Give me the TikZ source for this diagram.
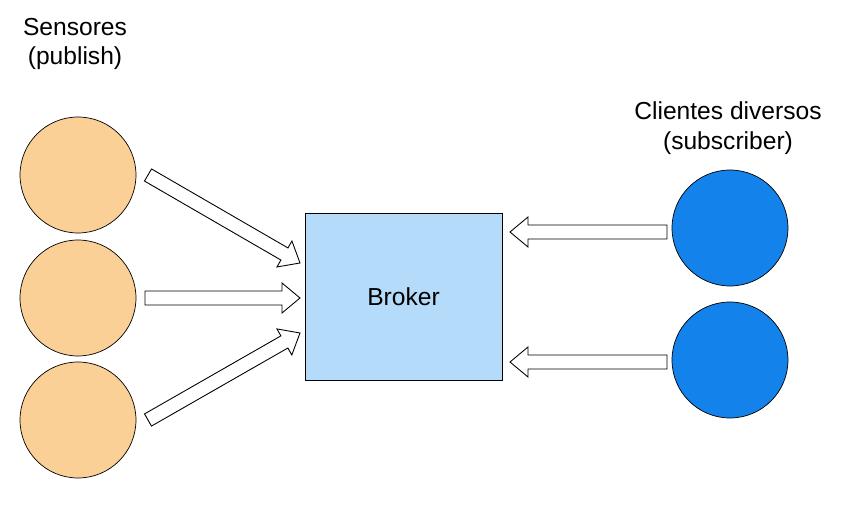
\documentclass[tikz,border=0pt]{standalone}
\usepackage{fontspec}
\setmainfont{Liberation Sans}
\usetikzlibrary{positioning,calc}
\definecolor{sensorfill}{RGB}{250,208,150}
\definecolor{clientfill}{RGB}{20,130,235}
\definecolor{brokerfill}{RGB}{180,220,250}
\newcommand{\hollowarrow}[2]{%
  \coordinate (hb) at ($(#2)!0.36cm!(#1)$);
  \draw[arrowline] ($(#1)!0.14cm!90:(#2)$) -- ($(hb)!0.14cm!-90:(#1)$) -- ($(hb)!0.3cm!-90:(#1)$) -- (#2)
    -- ($(hb)!0.3cm!90:(#1)$) -- ($(hb)!0.14cm!90:(#1)$) -- ($(#1)!0.14cm!-90:(#2)$) -- cycle;}
\begin{document}
\begin{tikzpicture}[x=0.02cm,y=-0.02cm,
  sensor/.style={circle,draw,fill=sensorfill,minimum size=2.32cm,inner sep=0pt},
  client/.style={circle,draw,fill=clientfill,minimum size=2.32cm,inner sep=0pt},
  arrowline/.style={draw,fill=white,line width=0.5pt,line join=miter},
  label/.style={font=\fontsize{14}{17}\selectfont,align=center}]
\useasboundingbox (0,0) rectangle (850,510);
% Sensors
\node[sensor] (s1) at (78,175) {};
\node[sensor] (s2) at (78,298) {};
\node[sensor] (s3) at (78,420) {};
\node[label] (sl) at (75,44) {Sensores\\(publish)};
% Clients
\node[client] (c1) at (730,228) {};
\node[client] (c2) at (730,360) {};
\node[label] (cl) at (728,128) {Clientes diversos\\(subscriber)};
% Broker
\node[draw,fill=brokerfill,minimum width=3.94cm,minimum height=3.34cm,label] (broker) at (403.5,296.5) {Broker};
% Arrows
\coordinate (a1) at (148,175); \coordinate (b1) at (300,263);
\coordinate (a2) at (145,298); \coordinate (b2) at (300,298);
\coordinate (a3) at (148,420); \coordinate (b3) at (300,333);
\coordinate (a4) at (667,232); \coordinate (b4) at (510,232);
\coordinate (a5) at (667,362); \coordinate (b5) at (510,362);
\hollowarrow{a1}{b1}
\hollowarrow{a2}{b2}
\hollowarrow{a3}{b3}
\hollowarrow{a4}{b4}
\hollowarrow{a5}{b5}
\end{tikzpicture}
\end{document}
